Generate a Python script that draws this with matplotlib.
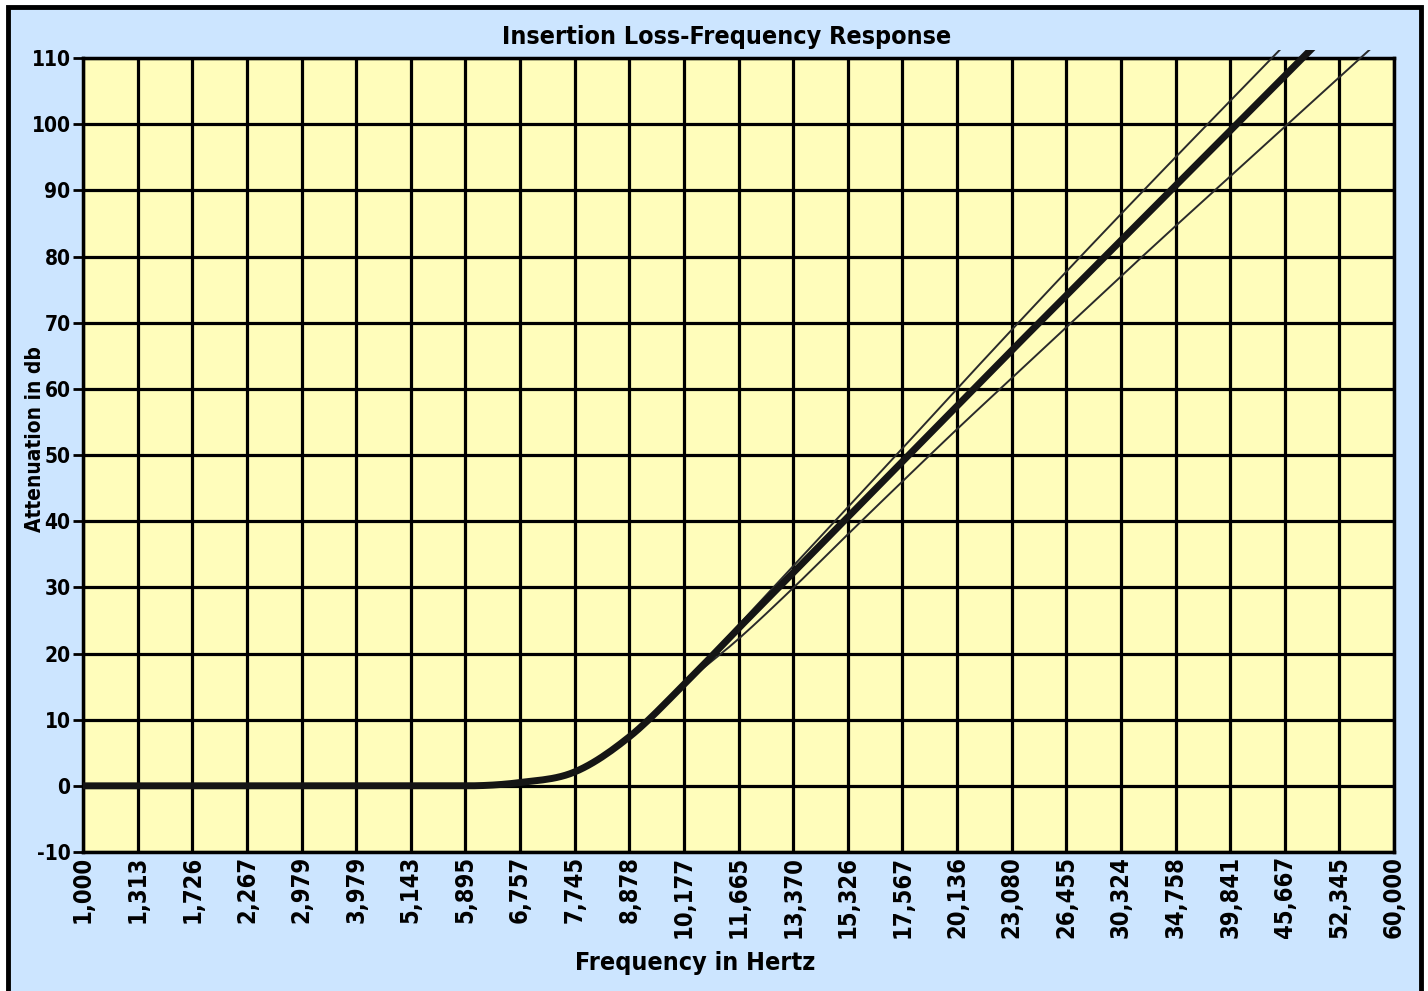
import matplotlib
matplotlib.use("Agg")
import matplotlib.pyplot as plt
import numpy as np
from matplotlib.patches import Rectangle

# ---- data ----
freq_labels = ["1,000", "1,313", "1,726", "2,267", "2,979", "3,979", "5,143", "5,895",
               "6,757", "7,745", "8,878", "10,177", "11,665", "13,370", "15,326", "17,567",
               "20,136", "23,080", "26,455", "30,324", "34,758", "39,841", "45,667",
               "52,345", "60,000"]
nominal = [0, 0, 0, 0, 0, 0, 0, 0, 0.5, 2.1, 7.4, 15.3, 23.8, 32.2, 40.6, 49.0,
           57.4, 65.8, 74.1, 82.4, 90.7, 99.0, 107.3, 115.6]
upper = [0, 0, 0, 0, 0, 0, 0, 0, 0.5, 2.1, 7.4, 15.3, 24.3, 33.2, 42.1, 51.0,
         60.0, 68.9, 77.7, 86.4, 95.0, 103.5, 112.0]
lower = [0, 0, 0, 0, 0, 0, 0, 0, 0.5, 2.1, 7.4, 15.3, 22.2, 29.9, 38.0, 46.0,
         53.9, 61.6, 69.3, 77.0, 84.6, 92.1, 99.6, 107.1, 114.6]
y_ticks = list(range(-10, 111, 10))

FONT = ["DejaVu Sans"]
BG = "#cce5ff"
PLOT_BG = "#fffdbb"


def smooth(ys, n=12):
    """Monotone cubic (Fritsch-Carlson) rendering curve through the read points."""
    y = np.asarray(ys, dtype=float)
    x = np.arange(len(y), dtype=float)
    d = np.diff(y)
    m = np.zeros_like(y)
    m[1:-1] = np.where(d[:-1] * d[1:] > 0, (d[:-1] + d[1:]) / 2, 0.0)
    m[0], m[-1] = d[0], d[-1]
    for k in range(len(d)):
        if d[k] == 0:
            m[k] = m[k + 1] = 0.0
        else:
            a, b = m[k] / d[k], m[k + 1] / d[k]
            s = a * a + b * b
            if s > 9:
                t = 3 / np.sqrt(s)
                m[k], m[k + 1] = t * a * d[k], t * b * d[k]
    xs, ysm = [], []
    for k in range(len(d)):
        t = np.linspace(0, 1, n, endpoint=False)
        h00 = 2 * t**3 - 3 * t**2 + 1
        h10 = t**3 - 2 * t**2 + t
        h01 = -2 * t**3 + 3 * t**2
        h11 = t**3 - t**2
        xs.append(x[k] + t)
        ysm.append(h00 * y[k] + h10 * m[k] + h01 * y[k + 1] + h11 * m[k + 1])
    xs.append([x[-1]])
    ysm.append([y[-1]])
    return np.concatenate(xs), np.concatenate(ysm)


fig = plt.figure(figsize=(14.28, 9.91), dpi=100)
fig.patch.set_facecolor("white")
frame = Rectangle((8 / 1428, -0.02), (1421 - 8) / 1428, 1.02 - 7 / 991,
                  transform=fig.transFigure, facecolor=BG, edgecolor="black",
                  linewidth=3.5, zorder=-10)
fig.patches.append(frame)

ax = fig.add_axes([83 / 1428, 1 - 852 / 991, (1394 - 83) / 1428, (852 - 58) / 991])
ax.set_facecolor(PLOT_BG)

clip = Rectangle((-1, -10), 27, 121.2, transform=ax.transData)

for ys, lw, col in [(upper, 1.4, "#2a2a2a"),
                    (lower, 1.4, "#2a2a2a"),
                    (nominal, 5.0, "#151515")]:
    sx, sy = smooth(ys)
    ln, = ax.plot(sx, sy, color=col, linewidth=lw, solid_capstyle="butt",
                  zorder=5)
    ln.set_clip_path(clip)

ax.set_xlim(0, len(freq_labels) - 1)
ax.set_ylim(-10, 110)
ax.set_xticks(range(len(freq_labels)))
ax.set_xticklabels(freq_labels, rotation=90, fontsize=17, fontweight="bold",
                   family=FONT, fontstretch="condensed", va="top", ha="center")
ax.set_yticks(y_ticks)
ax.set_yticklabels([str(v) for v in y_ticks], fontsize=15, fontweight="bold",
                   family=FONT, fontstretch="condensed")
ax.tick_params(axis="x", length=0, pad=3)
ax.tick_params(axis="y", length=7, width=2, pad=2)

ax.grid(True, color="black", linewidth=2.3, zorder=1)
ax.set_axisbelow(True)
for s in ax.spines.values():
    s.set_linewidth(2.5)
    s.set_color("black")

ax.set_xlabel("Frequency in Hertz", fontsize=18, fontweight="bold", family=FONT,
              fontstretch="condensed", labelpad=10)
ax.xaxis.set_label_coords(0.467, -0.125)
ax.set_ylabel("Attenuation in db", fontsize=15, fontweight="bold", family=FONT,
              fontstretch="condensed")
ax.yaxis.set_label_coords(-0.029, 0.52)
ax.set_title("Insertion Loss-Frequency Response", fontsize=18, fontweight="bold",
             family=FONT, fontstretch="condensed", pad=10, x=0.491)

fig.savefig("out.png", dpi=100, facecolor=fig.get_facecolor())
